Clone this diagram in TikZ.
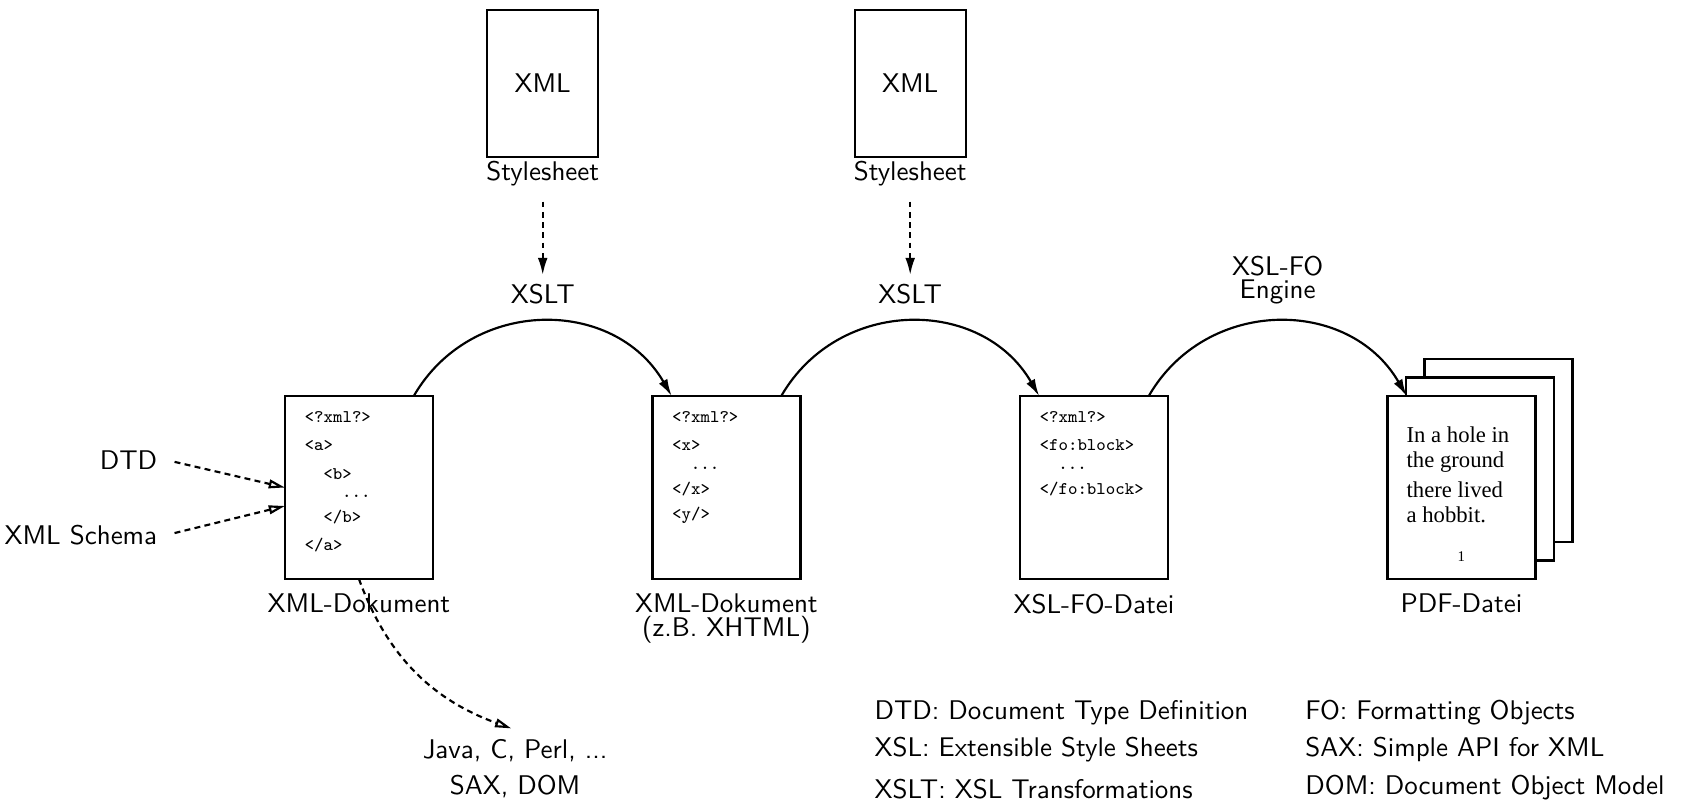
\documentclass[tikz,border=0pt]{standalone}
\usepackage{fontspec}
\usetikzlibrary{positioning, calc, arrows.meta}
\newfontfamily\pagefont{Liberation Serif}
\tikzset{
  >={Latex[length=6.3pt,width=3.6pt]},
  node distance=2.858cm,
  every node/.style={font=\sffamily},
  doc/.style={draw, thick, fill=white, minimum width=1.927cm, minimum height=2.383cm, inner sep=0pt, outer sep=0pt},
  sheet/.style={draw, thick, minimum width=1.445cm, minimum height=1.914cm, inner sep=0pt},
  code/.style={anchor=north west, inner sep=0pt, align=left, font=\fontsize{6.6}{10.4}\selectfont\ttfamily},
  dasharrow/.style={thick, dash pattern=on 2.2pt off 1.6pt},
  hollow/.style={-{Triangle[open,length=6pt,width=3.2pt]}},
}

\begin{document}
\begin{tikzpicture}
  \useasboundingbox (0,0) rectangle (21.953,-10.547);

  % documents
  \node[doc] (doc1) at (4.674,-6.348) {};
  \node[doc, right=of doc1] (doc2) {};
  \node[doc, right=of doc2] (doc3) {};
  \node[doc, right=of doc3, xshift=0.482cm, yshift=0.482cm] (pdfc) {};
  \node[doc, right=of doc3, xshift=0.241cm, yshift=0.241cm] (pdfb) {};
  \node[doc, right=of doc3] (pdf) {};

  % contents
  \node[code] (txt1) at ([xshift=0.25cm,yshift=-0.2cm]doc1.north west)
    {<?xml?>\\<a>\\\hspace*{1.05em}<b>\\[-3.4pt]\hspace*{2.1em}...\\[-1.2pt]\hspace*{1.05em}</b>\\</a>};
  \node[code] (txt2) at ([xshift=0.25cm,yshift=-0.2cm]doc2.north west)
    {<?xml?>\\<x>\\[-3.4pt]\hspace*{1.05em}...\\[-1.2pt]</x>\\[-1.2pt]<y/>};
  \node[code] (txt3) at ([xshift=0.25cm,yshift=-0.2cm]doc3.north west)
    {<?xml?>\\<fo:block>\\[-3.4pt]\hspace*{1.05em}...\\[-1.2pt]</fo:block>};
  \node[anchor=north west, inner sep=0pt, align=left, font=\pagefont\fontsize{8.4}{9.2}\selectfont] (ptxt)
    at ([xshift=0.243cm,yshift=-0.39cm]pdf.north west)
    {In a hole in\\the ground\\[2pt]there lived\\a hobbit.};
  \node[font=\pagefont\fontsize{5.5}{6}\selectfont] (pnum) at ([yshift=0.29cm]pdf.south) {1};

  % labels
  \node[below=0.07cm of doc1] (lbl1) {XML-Dokument};
  \node[below=0.07cm of doc2, align=center] (lbl2) {XML-Dokument\\[-3.2pt](z.B. XHTML)};
  \node[below=0.07cm of doc3] (lbl3) {XSL-FO-Datei};
  \node[below=0.07cm of pdf] (lbl4) {PDF-Datei};

  % stylesheets
  \node[sheet] (ss1) at ($(doc1.north)!0.5!(doc2.north)+(0,4.07)$) {XML};
  \node[sheet] (ss2) at ($(doc2.north)!0.5!(doc3.north)+(0,4.07)$) {XML};
  \node[below=0pt of ss1, inner sep=1pt] (ssl1) {Stylesheet};
  \node[below=0pt of ss2, inner sep=1pt] (ssl2) {Stylesheet};
  \node (xslt1) at ($(doc1.north)!0.5!(doc2.north)+(0,1.322)$) {XSLT};
  \node (xslt2) at ($(doc2.north)!0.5!(doc3.north)+(0,1.322)$) {XSLT};
  \node[align=center] (engine) at ($(doc3.north)!0.5!(pdf.north)+(0,1.51)$) {XSL-FO\\[-3.5pt]Engine};

  % inputs and outputs
  \node[anchor=east] (dtd) at ([xshift=-1.54cm,yshift=0.358cm]doc1.west) {DTD};
  \node[anchor=east] (schema) at ([xshift=-1.54cm,yshift=-0.618cm]doc1.west) {XML Schema};
  \node[align=center] (java) at ($(doc1.south)+(2.032,-2.47)$) {Java, C, Perl, ...\\[1.5pt]SAX, DOM};

  % legend
  \node[anchor=north west, inner sep=0pt, align=left] (legl) at (11.38,-9.115)
    {DTD: Document Type Definition\\[1.56pt]XSL: Extensible Style Sheets\\[3.5pt]XSLT: XSL Transformations};
  \node[anchor=north west, inner sep=0pt, align=left] (legr) at (16.99,-9.115)
    {FO: Formatting Objects\\[1.56pt]SAX: Simple API for XML\\[1.94pt]DOM: Document Object Model};

  % transformations
  \draw[thick]
    ([xshift=-0.25cm]doc1.north east) edge[->, out=60, in=120, looseness=1.14] ([xshift=0.25cm]doc2.north west)
    ([xshift=-0.25cm]doc2.north east) edge[->, out=60, in=120, looseness=1.14] ([xshift=0.25cm]doc3.north west)
    ([xshift=-0.25cm]doc3.north east) edge[->, out=60, in=120, looseness=1.14] ([xshift=0.25cm]pdf.north west);
  \draw[dasharrow, ->, shorten <=4.5pt] (ssl1) -- (xslt1);
  \draw[dasharrow, ->, shorten <=4.5pt] (ssl2) -- (xslt2);
  \draw[dasharrow, hollow, shorten <=3pt] (dtd.east) -- (doc1.west);
  \draw[dasharrow, hollow, shorten <=3pt] (schema.east) -- ([yshift=-0.24cm]doc1.west);
  \draw[dasharrow, hollow, shorten >=1.5pt] (doc1.south) to[out=-70, in=160] (java.north);
\end{tikzpicture}
\end{document}
